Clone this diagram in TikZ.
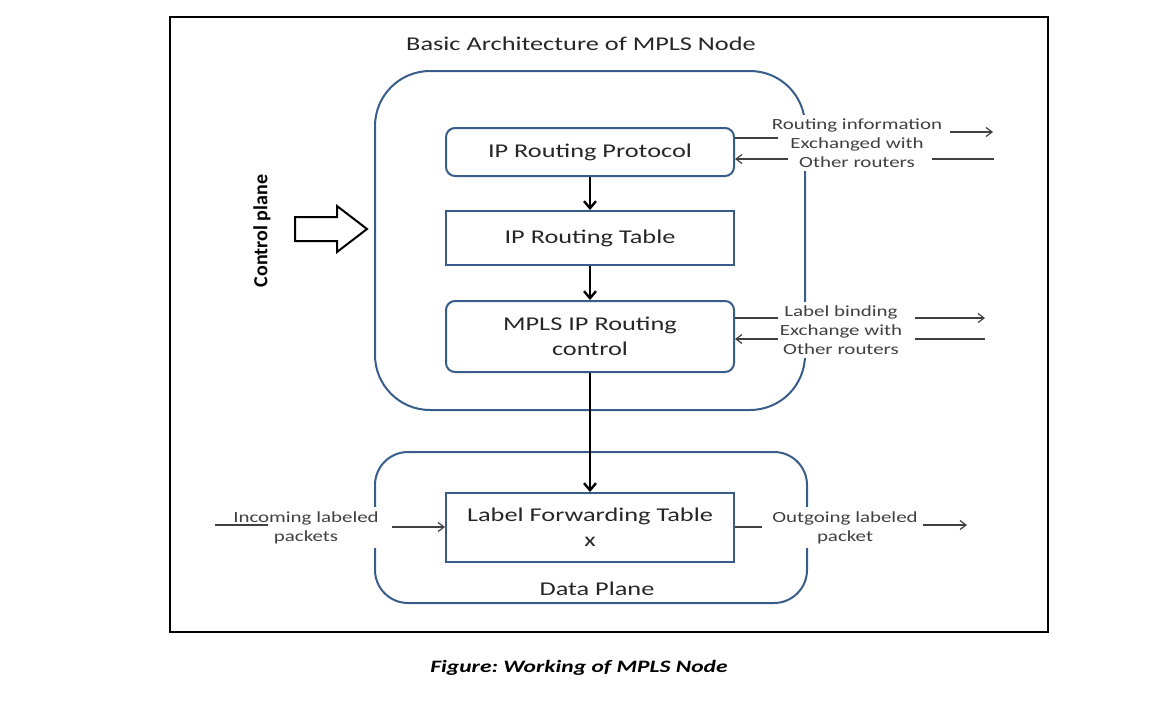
\documentclass[tikz,border=0pt]{standalone}
\usepackage{fontspec}
\setmainfont{Carlito}[FakeStretch=1.35]
\newfontfamily\cpfont{Carlito}
\usetikzlibrary{arrows.meta}
\frenchspacing
\definecolor{mplsblue}{RGB}{56,93,138}
\tikzset{
  box/.style={draw=mplsblue, line width=2pt, minimum width=288pt, text=black!85,
    font=\fontsize{19.5}{25}\selectfont, align=center},
  roundbox/.style={box, rounded corners=9pt},
  plane/.style={draw=mplsblue, line width=2pt},
  side/.style={fill=white, text=black!75, font=\fontsize{15.5}{19}\selectfont,
    align=center, inner sep=4pt},
  link/.style={draw=black!75, line width=1.2pt},
  thinarrow/.style={link, -{Straight Barb[length=6pt,width=9pt]}},
  flow/.style={black, line width=2.4pt, -{Straight Barb[length=7pt,width=12pt]}},
}
\begin{document}
\begin{tikzpicture}[x=1pt,y=-1pt]
    \useasboundingbox (0,0) rectangle (1164,705);
    %% frame
    \draw[line width=1.2pt] (170,17) rectangle (1048,632);
    \node[text=black!85, font=\fontsize{19.5}{25}\selectfont] (title) at (581,44) {Basic Architecture of MPLS Node};
    %% planes
    \draw[plane, rounded corners=55pt] (375,71) rectangle (805,410);
    \draw[plane, rounded corners=33pt] (375,452) rectangle (807,603);
    %% boxes
    \node[roundbox, minimum height=48pt] (proto) at (590,152) {IP Routing Protocol};
    \node[box, minimum height=54pt] (table) at (590,238) {IP Routing Table};
    \node[roundbox, minimum height=71pt] (ctl) at (590,336.5) {MPLS IP Routing\\control};
    \node[box, minimum height=69pt] (lft) at (590,527.5) {Label Forwarding Table\\x};
    \node[text=black!85, font=\fontsize{19.5}{25}\selectfont] (dp) at (597,589) {Data Plane};
    %% vertical flow
    \draw[flow] (proto) -- (table);
    \draw[flow] (table) -- (ctl);
    \draw[flow] (ctl) -- (lft);
    %% side labels
    \node[side] (ri) at (857,143) {Routing information\\Exchanged with\\Other routers};
    \node[side] (lb) at (841,330) {Label binding\\Exchange with\\Other routers};
    \node[side] (inc) at (306,527.5) {Incoming labeled\\packets};
    \node[side] (outg) at (845,527.5) {Outgoing labeled\\packet};
    %% routing information links
    \coordinate (ri1) at (778,138);
    \coordinate (ri2) at (788,159);
    \coordinate (ri3a) at (950,132);
    \coordinate (ri3b) at (993,132);
    \coordinate (ri4a) at (932,159);
    \coordinate (ri4b) at (994,159);
    \draw[link] (proto.east |- ri1) -- (ri1);
    \draw[thinarrow] (ri2) -- (proto.east |- ri2);
    \draw[thinarrow] (ri3a) -- (ri3b);
    \draw[link] (ri4a) -- (ri4b);
    %% label binding links
    \coordinate (lb1) at (778,318);
    \coordinate (lb2) at (778,339);
    \coordinate (lb3a) at (915,318);
    \coordinate (lb3b) at (985,318);
    \coordinate (lb4a) at (915,339);
    \coordinate (lb4b) at (985,339);
    \draw[link] (ctl.east |- lb1) -- (lb1);
    \draw[thinarrow] (lb2) -- (ctl.east |- lb2);
    \draw[thinarrow] (lb3a) -- (lb3b);
    \draw[link] (lb4a) -- (lb4b);
    %% data plane links
    \coordinate (in1) at (215,525);
    \coordinate (in2) at (268,525);
    \coordinate (in3) at (392,527);
    \coordinate (out1) at (762,527);
    \coordinate (out2) at (923,525);
    \coordinate (out3) at (967,525);
    \draw[link] (in1) -- (in2);
    \draw[thinarrow] (in3) -- (lft.west |- in3);
    \draw[link] (lft.east |- out1) -- (out1);
    \draw[thinarrow] (out2) -- (out3);
    %% control plane
    \node[rotate=90, font=\cpfont\bfseries\fontsize{20}{24}\selectfont] (cp) at (262,231) {Control plane};
    \draw[line width=2pt, line join=miter] (295,217) -- (337,217) -- (337,206) -- (367,229)
        -- (337,252) -- (337,241) -- (295,241) -- cycle;
    %% caption
    \node[font=\bfseries\itshape\fontsize{17.4}{21}\selectfont] (caption) at (579,668) {Figure: Working of MPLS Node};
\end{tikzpicture}
\end{document}
